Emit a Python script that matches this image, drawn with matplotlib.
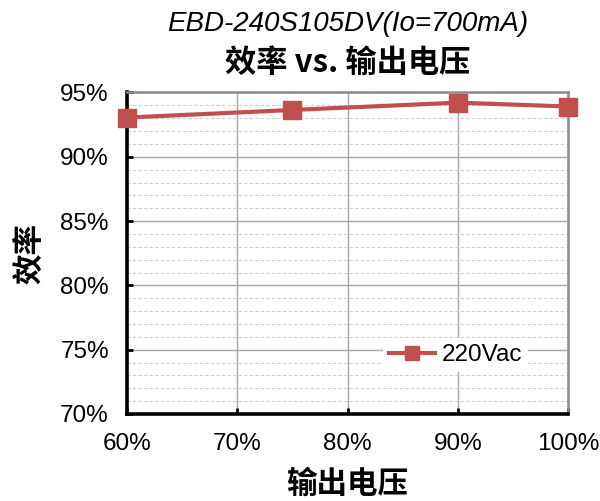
import matplotlib
matplotlib.use("Agg")
import matplotlib.pyplot as plt
from matplotlib.ticker import MultipleLocator, FuncFormatter

plt.rcParams['font.family'] = ['Liberation Sans', 'Noto Sans CJK SC', 'DejaVu Sans']

# Efficiency vs. output voltage (percent of rated)
load_pct = [60, 75, 90, 100]
eff_220vac = [93.05, 93.64, 94.21, 93.91]
series_label = "220Vac"
title_line1 = "EBD-240S105DV(Io=700mA)"
title_line2 = "效率 vs. 输出电压"
x_label = "输出电压"
y_label = "效率"

red = "#C0504D"

fig = plt.figure(figsize=(6.0, 5.01), dpi=100)
ax = fig.add_axes([0.2117, 0.1737, 0.735, 0.6417])

ax.set_xlim(60, 100)
ax.set_ylim(70, 95)
ax.xaxis.set_major_locator(MultipleLocator(10))
ax.yaxis.set_major_locator(MultipleLocator(5))
ax.yaxis.set_minor_locator(MultipleLocator(1))
pct = FuncFormatter(lambda v, p: f"{v:.0f}%")
ax.xaxis.set_major_formatter(pct)
ax.yaxis.set_major_formatter(pct)

ax.grid(which='major', axis='both', color='#a6a6a6', linewidth=1.0, linestyle='-')
ax.grid(which='minor', axis='y', color='#cfcfcf', linewidth=0.8, linestyle=(0, (3, 2)))
ax.set_axisbelow(True)

for side in ('left', 'bottom'):
    ax.spines[side].set_color('black')
    ax.spines[side].set_linewidth(2.6)
for side in ('top', 'right'):
    ax.spines[side].set_color('#8c8c8c')
    ax.spines[side].set_linewidth(1.8)

ax.tick_params(axis='both', which='major', direction='in', length=4, width=2,
               color='black', labelsize=17.5)
ax.tick_params(axis='y', which='minor', length=0)
ax.tick_params(axis='y', pad=13)
ax.tick_params(axis='x', pad=14)

ax.plot(load_pct, eff_220vac, color=red, linewidth=3, marker='s',
        markersize=13, markerfacecolor=red, markeredgecolor=red,
        label=series_label, clip_on=False, zorder=5)

leg = ax.legend(loc='center', bbox_to_anchor=(0.745, 0.183), frameon=True,
                fontsize=17.5, handlelength=1.9, handletextpad=0.25,
                borderpad=0.25, fancybox=False, markerscale=0.82)
leg.get_frame().set_edgecolor('none')
leg.get_frame().set_facecolor('white')
leg.get_frame().set_alpha(1.0)

ax.set_xlabel(x_label, fontsize=22, fontweight='bold', labelpad=9,
              family=['Noto Sans CJK SC'])
ax.set_ylabel(y_label, fontsize=22, fontweight='bold', labelpad=10,
              family=['Noto Sans CJK SC'])

fig.text(0.58, 0.952, title_line1, ha='center', va='center', fontsize=20,
         style='italic')
fig.text(0.58, 0.875, title_line2, ha='center', va='center', fontsize=22.5,
         fontweight='bold', family=['Noto Sans CJK SC', 'Liberation Sans'])

fig.savefig("out.png", dpi=100)
